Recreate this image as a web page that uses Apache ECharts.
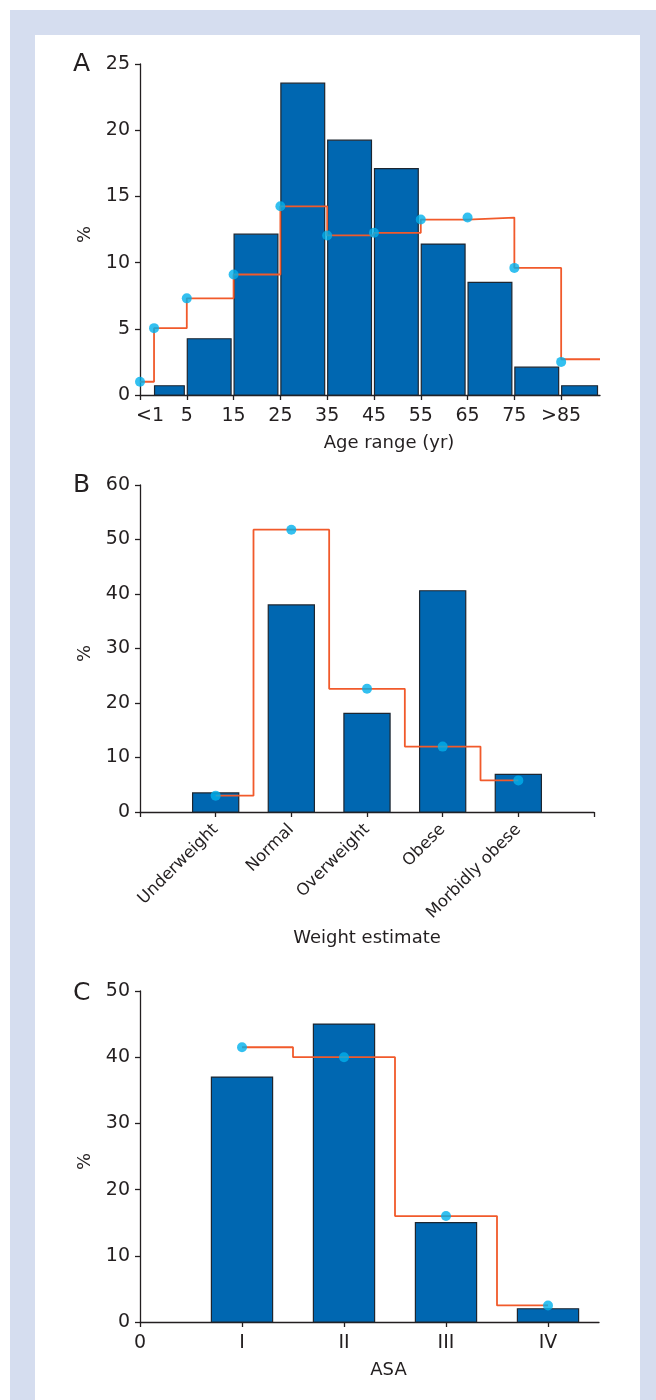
<!DOCTYPE html>
<html>
<head>
<meta charset="utf-8">
<script src="https://cdn.jsdelivr.net/npm/echarts@6/dist/echarts.min.js"></script>
<style>
html,body{margin:0;padding:0;background:#ffffff;}
#frame{position:absolute;left:10px;top:10px;width:646px;height:1390px;background:#d5ddef;}
#panel{position:absolute;left:35px;top:35px;width:605px;height:1365px;background:#ffffff;}
#chart{position:absolute;left:0;top:0;width:656px;height:1400px;}
</style>
</head>
<body>
<div id="frame"></div>
<div id="panel"></div>
<div id="chart"></div>
<script>
// ---- Panel A: age ----
const ageTickLabels = ['<1','5','15','25','35','45','55','65','75','>85'];
const ageBarStart = [0.3, 1, 2, 3, 4, 5, 6, 7, 8, 9];
const ageBarEnd = [1, 2, 3, 4, 5, 6, 7, 8, 9, 9.83];
const ageBarValues = [0.7, 4.25, 12.15, 23.55, 19.25, 17.1, 11.4, 8.5, 2.1, 0.7];
const ageDotX = [0, 0.3, 1, 2, 3, 4, 5, 6, 7, 8, 9];
const ageDotValues = [1.0, 5.05, 7.3, 9.1, 14.25, 12.05, 12.25, 13.25, 13.4, 9.6, 2.5];
const ageLineX = [0, 0.3, 1, 2, 3, 4, 5, 6, 7, 8, 9, 9.83];
const ageLineValues = [1.0, 5.05, 7.3, 9.1, 14.25, 12.05, 12.25, 13.25, 13.4, 9.6, 2.7, 2.7];

// ---- Panel B: weight ----
const weightCategories = ['Underweight','Normal','Overweight','Obese','Morbidly obese'];
const weightBarValues = [3.5, 38.0, 18.1, 40.6, 6.9];
const weightDotValues = [3.0, 51.8, 22.6, 12.0, 5.8];

// ---- Panel C: ASA ----
const asaTickLabels = ['0','I','II','III','IV'];
const asaBarValues = [37.0, 45.0, 15.0, 2.0];
const asaDotValues = [41.5, 40.0, 16.0, 2.5];

const FONT = 'DejaVu Sans';
const TXT = '#231f20';
const BLUE = '#0067b1';
const EDGE = '#1d2630';
const ORANGE = '#f15a2b';
const CYAN = '#00b0ec';

const chart = echarts.init(document.getElementById('chart'), null, {renderer:'canvas'});

function spanBars(params, api) {
  const s = api.coord([api.value(0), api.value(2)]);
  const e = api.coord([api.value(1), 0]);
  return {type:'rect', shape:{x:s[0]+0.5, y:s[1], width:e[0]-s[0]-3, height:e[1]-s[1]},
    style:{fill:BLUE, stroke:EDGE, lineWidth:1.2}};
}
function centeredBars(frac) {
  return function(params, api) {
    const c = api.coord([api.value(0), api.value(1)]);
    const z = api.coord([api.value(0), 0]);
    const w = api.size([1, 0])[0] * frac;
    return {type:'rect', shape:{x:c[0]-w/2, y:c[1], width:w, height:z[1]-c[1]},
      style:{fill:BLUE, stroke:EDGE, lineWidth:1.2}};
  };
}

const axisLine = {show:true, lineStyle:{color:TXT, width:1.3}};
const tick = {show:true, length:5, lineStyle:{color:TXT, width:1.3}};
const lbl = {color:TXT, fontFamily:FONT, fontSize:19};

function yAx(gi, max, interval) {
  return {gridIndex:gi, type:'value', min:0, max:max, interval:interval,
    axisLine:axisLine, axisTick:tick, splitLine:{show:false},
    axisLabel:Object.assign({margin:10}, lbl),
    name:'%', nameLocation:'middle', nameGap:46,
    nameTextStyle:{color:TXT, fontFamily:FONT, fontSize:18, padding:[0,10,0,0]}};
}

const option = {
  animation:false,
  backgroundColor:'transparent',
  grid:[
    {left:140, top:64, width:460, height:331},
    {left:140, top:485, width:454, height:327},
    {left:140, top:991, width:459, height:331}
  ],
  xAxis:[
    {gridIndex:0, type:'value', min:0, max:9.83,
     axisLine:axisLine, splitLine:{show:false},
     axisTick:Object.assign({customValues:ageTickLabels.map((t,i)=>i)}, tick),
     axisLabel:Object.assign({margin:12, customValues:ageTickLabels.map((t,i)=>i),
       formatter:function(v){ const i=Math.round(v); return i===0 ? '{s|'+ageTickLabels[0]+'}' : ageTickLabels[i]; }}, lbl,
       {rich:{s:{padding:[0,0,0,20], color:TXT, fontFamily:FONT, fontSize:19}}}),
     name:'Age range (yr)', nameLocation:'middle', nameGap:39,
     nameTextStyle:{color:TXT, fontFamily:FONT, fontSize:18, padding:[0,0,0,38]}},
    {gridIndex:1, type:'value', min:0, max:6,
     axisLine:axisLine, splitLine:{show:false},
     axisTick:Object.assign({customValues:[0,1,2,3,4,5,6]}, tick),
     axisLabel:Object.assign({}, lbl, {margin:15, rotate:45, fontSize:16.5, customValues:[1,2,3,4,5],
       formatter:function(v){ return weightCategories[Math.round(v)-1]; }}),
     name:'Weight estimate', nameLocation:'middle', nameGap:117,
     nameTextStyle:{color:TXT, fontFamily:FONT, fontSize:18}},
    {gridIndex:2, type:'value', min:0, max:4.5,
     axisLine:axisLine, splitLine:{show:false},
     axisTick:Object.assign({customValues:[0,1,2,3,4]}, tick),
     axisLabel:Object.assign({margin:12, customValues:[0,1,2,3,4],
       formatter:function(v){ return asaTickLabels[Math.round(v)]; }}, lbl),
     name:'ASA', nameLocation:'middle', nameGap:39,
     nameTextStyle:{color:TXT, fontFamily:FONT, fontSize:18, padding:[0,0,0,38]}}
  ],
  yAxis:[ yAx(0, 25, 5), yAx(1, 60, 10), yAx(2, 50, 10) ],
  graphic:[
    {type:'text', left:73, top:52, style:{text:'A', fill:TXT, font:'25px "DejaVu Sans"'}},
    {type:'text', left:73, top:473, style:{text:'B', fill:TXT, font:'25px "DejaVu Sans"'}},
    {type:'text', left:73, top:981, style:{text:'C', fill:TXT, font:'25px "DejaVu Sans"'}}
  ],
  series:[
    {type:'custom', xAxisIndex:0, yAxisIndex:0, renderItem:spanBars, encode:{x:[0,1], y:2},
     data:ageBarStart.map((s,i)=>[s, ageBarEnd[i], ageBarValues[i]]), z:2},
    {type:'line', xAxisIndex:0, yAxisIndex:0, step:'end', showSymbol:false, symbol:'none',
     lineStyle:{color:ORANGE, width:1.8}, data:ageLineX.map((x,i)=>[x, ageLineValues[i]]), z:3},
    {type:'scatter', xAxisIndex:0, yAxisIndex:0, symbol:'circle', symbolSize:10,
     itemStyle:{color:CYAN}, data:ageDotX.map((x,i)=>[x, ageDotValues[i]]), z:4},

    {type:'custom', xAxisIndex:1, yAxisIndex:1, renderItem:centeredBars(0.61), encode:{x:0, y:1},
     data:weightBarValues.map((v,i)=>[i+1, v]), z:2},
    {type:'line', xAxisIndex:1, yAxisIndex:1, step:'middle', showSymbol:false, symbol:'none',
     lineStyle:{color:ORANGE, width:1.8}, data:weightDotValues.map((v,i)=>[i+1, v]), z:3},
    {type:'scatter', xAxisIndex:1, yAxisIndex:1, symbol:'circle', symbolSize:10,
     itemStyle:{color:CYAN}, data:weightDotValues.map((v,i)=>[i+1, v]), z:4},

    {type:'custom', xAxisIndex:2, yAxisIndex:2, renderItem:centeredBars(0.6), encode:{x:0, y:1},
     data:asaBarValues.map((v,i)=>[i+1, v]), z:2},
    {type:'line', xAxisIndex:2, yAxisIndex:2, step:'middle', showSymbol:false, symbol:'none',
     lineStyle:{color:ORANGE, width:1.8}, data:asaDotValues.map((v,i)=>[i+1, v]), z:3},
    {type:'scatter', xAxisIndex:2, yAxisIndex:2, symbol:'circle', symbolSize:10,
     itemStyle:{color:CYAN}, data:asaDotValues.map((v,i)=>[i+1, v]), z:4}
  ]
};
chart.setOption(option);
</script>
</body>
</html>
